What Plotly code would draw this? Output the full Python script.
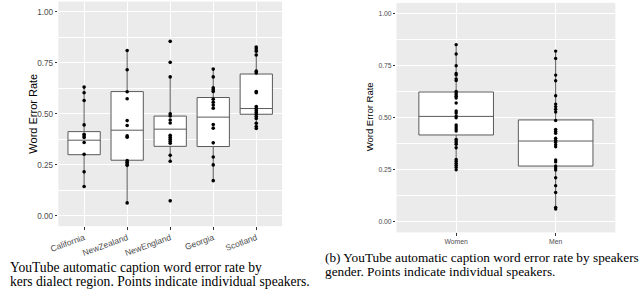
import plotly.graph_objects as go

# ---------------- data ----------------
regions = ["California", "NewZealand", "NewEngland", "Georgia", "Scotland"]
region_q1 = [0.300, 0.273, 0.341, 0.340, 0.498]
region_median = [0.371, 0.420, 0.425, 0.484, 0.526]
region_q3 = [0.413, 0.609, 0.489, 0.580, 0.695]
region_lower = [0.144, 0.064, 0.268, 0.173, 0.428]
region_upper = [0.631, 0.810, 0.681, 0.719, 0.827]

california_wer = [0.631, 0.603, 0.565, 0.446, 0.400, 0.392, 0.384, 0.360, 0.302, 0.216, 0.144]
newzealand_wer = [0.810, 0.716, 0.608, 0.574, 0.467, 0.443, 0.392, 0.386, 0.271, 0.263, 0.255, 0.248, 0.064]
newengland_wer = [0.855, 0.752, 0.681, 0.500, 0.490, 0.470, 0.455, 0.395, 0.386, 0.376, 0.366, 0.356,
                  0.297, 0.268, 0.074]
georgia_wer = [0.719, 0.681, 0.627, 0.618, 0.610, 0.572, 0.557, 0.543, 0.528, 0.448, 0.430, 0.358,
               0.289, 0.250, 0.173]
scotland_wer = [0.827, 0.817, 0.807, 0.788, 0.709, 0.700, 0.609, 0.603, 0.536, 0.526, 0.516, 0.507,
                0.497, 0.487, 0.477, 0.454, 0.438, 0.428]

genders = ["Women", "Men"]
gender_q1 = [0.417, 0.268]
gender_median = [0.506, 0.388]
gender_q3 = [0.623, 0.489]
gender_lower = [0.250, 0.062]
gender_upper = [0.850, 0.819]

women_wer = [0.850, 0.805, 0.749, 0.712, 0.705, 0.686, 0.678, 0.626, 0.618, 0.610, 0.602, 0.594,
             0.570, 0.532, 0.522, 0.508, 0.499, 0.465, 0.455, 0.446, 0.436, 0.396, 0.388, 0.380,
             0.372, 0.356, 0.300, 0.291, 0.281, 0.272, 0.262, 0.250]
men_wer = [0.819, 0.784, 0.704, 0.677, 0.605, 0.565, 0.553, 0.540, 0.527, 0.486, 0.444, 0.435,
           0.425, 0.401, 0.392, 0.382, 0.370, 0.360, 0.297, 0.288, 0.268, 0.259, 0.249, 0.212,
           0.174, 0.141, 0.070, 0.062]

y_ticks = [0.0, 0.25, 0.50, 0.75, 1.00]
y_title = "Word Error Rate"
# the left caption is cropped at the image's left edge in the reference
caption_a = ["YouTube automatic caption word error rate by",
             "kers dialect region. Points indicate individual speakers."]
caption_b = ["(b) YouTube automatic caption word error rate by speakers",
             "gender. Points indicate individual speakers."]

region_points = [california_wer, newzealand_wer, newengland_wer, georgia_wer, scotland_wer]
gender_points = [women_wer, men_wer]

# ---------------- figure ----------------
W, H = 640, 290
def px(x):
    return x / W
def py(y):
    return 1 - y / H

BOX_LINE = "#5a5a5a"
fig = go.Figure()

fig.add_trace(go.Box(
    x=regions, q1=region_q1, median=region_median, q3=region_q3,
    lowerfence=region_lower, upperfence=region_upper,
    boxpoints=False, width=0.75, whiskerwidth=0,
    fillcolor="white", line=dict(color=BOX_LINE, width=1),
    xaxis="x", yaxis="y", showlegend=False, hoverinfo="skip"))

px_x, px_y = [], []
for r, vals in zip(regions, region_points):
    px_x += [r] * len(vals)
    px_y += vals
fig.add_trace(go.Scatter(x=px_x, y=px_y, mode="markers",
                         marker=dict(color="black", size=3.6),
                         xaxis="x", yaxis="y", showlegend=False))

fig.add_trace(go.Box(
    x=genders, q1=gender_q1, median=gender_median, q3=gender_q3,
    lowerfence=gender_lower, upperfence=gender_upper,
    boxpoints=False, width=0.75, whiskerwidth=0,
    fillcolor="white", line=dict(color=BOX_LINE, width=1),
    xaxis="x2", yaxis="y2", showlegend=False, hoverinfo="skip"))

gx, gy = [], []
for g, vals in zip(genders, gender_points):
    gx += [g] * len(vals)
    gy += vals
fig.add_trace(go.Scatter(x=gx, y=gy, mode="markers",
                         marker=dict(color="black", size=3.4),
                         xaxis="x2", yaxis="y2", showlegend=False))

def yaxis_cfg(domain, fs, anchor):
    return dict(domain=domain, range=[-0.05, 1.05], tickvals=y_ticks, tickformat=".2f",
                showgrid=True, gridcolor="white", gridwidth=1.1, zeroline=False,
                showline=False, ticks="outside", ticklen=2.5, tickcolor="#333333", tickwidth=0.8,
                tickfont=dict(family="Liberation Sans", size=fs, color="#4d4d4d"),
                minor=dict(tick0=0.125, dtick=0.25, showgrid=True, gridcolor="white",
                           gridwidth=0.5, ticks=""),
                anchor=anchor, fixedrange=True)

def xaxis_cfg(domain, cats, fs, angle, anchor):
    return dict(domain=domain, type="category", categoryorder="array", categoryarray=cats,
                range=[-0.6, len(cats) - 0.4], showgrid=True, gridcolor="white", gridwidth=1.1,
                zeroline=False, showline=False, ticks="outside", ticklen=2.5,
                tickcolor="#333333", tickwidth=0.8, tickangle=angle,
                tickfont=dict(family="Liberation Sans", size=fs, color="#4d4d4d"),
                anchor=anchor, fixedrange=True)

fig.update_layout(
    width=W, height=H, margin=dict(l=0, r=0, t=0, b=0),
    paper_bgcolor="white", plot_bgcolor="#EBEBEB",
    xaxis=xaxis_cfg([px(50), px(277)], regions, 8.5, -20, "y"),
    yaxis=yaxis_cfg([py(226.2), py(1.5)], 8.2, "x"),
    xaxis2=xaxis_cfg([px(393), px(615)], genders, 6.8, 0, "y2"),
    yaxis2=yaxis_cfg([py(232.4), py(2.9)], 6.8, "x2"),
)

ann = []
ann.append(dict(text=y_title, x=px(24), y=py(114), xref="paper", yref="paper",
                textangle=-90, showarrow=False, xanchor="center", yanchor="middle",
                font=dict(family="Liberation Sans", size=11, color="black")))
ann.append(dict(text=y_title, x=px(365.5), y=py(117), xref="paper", yref="paper",
                textangle=-90, showarrow=False, xanchor="center", yanchor="middle",
                font=dict(family="Liberation Sans", size=9.5, color="black")))
serif_a = dict(family="Liberation Serif", size=13.6, color="black")
serif_b = dict(family="Liberation Serif", size=13.3, color="black")
for txt, xx, yy, f in [(caption_a[0], -1, 267, serif_a), (caption_a[1], -1, 281.5, serif_a),
                       (caption_b[0], 318, 257, serif_b), (caption_b[1], 318, 271, serif_b)]:
    ann.append(dict(text=txt, x=px(xx), y=py(yy), xref="paper", yref="paper", align="left",
                    showarrow=False, xanchor="left", yanchor="middle", font=f))
fig.update_layout(annotations=ann)

pin_script = (
    "document.documentElement.style.margin='0';"
    "document.body.style.margin='0';document.body.style.padding='0';"
    "var gd=document.getElementById('{plot_id}');"
    "gd.style.position='fixed';gd.style.left='0px';gd.style.top='0px';"
)
fig.write_html("out.html", config={"displayModeBar": False}, post_script=pin_script)
